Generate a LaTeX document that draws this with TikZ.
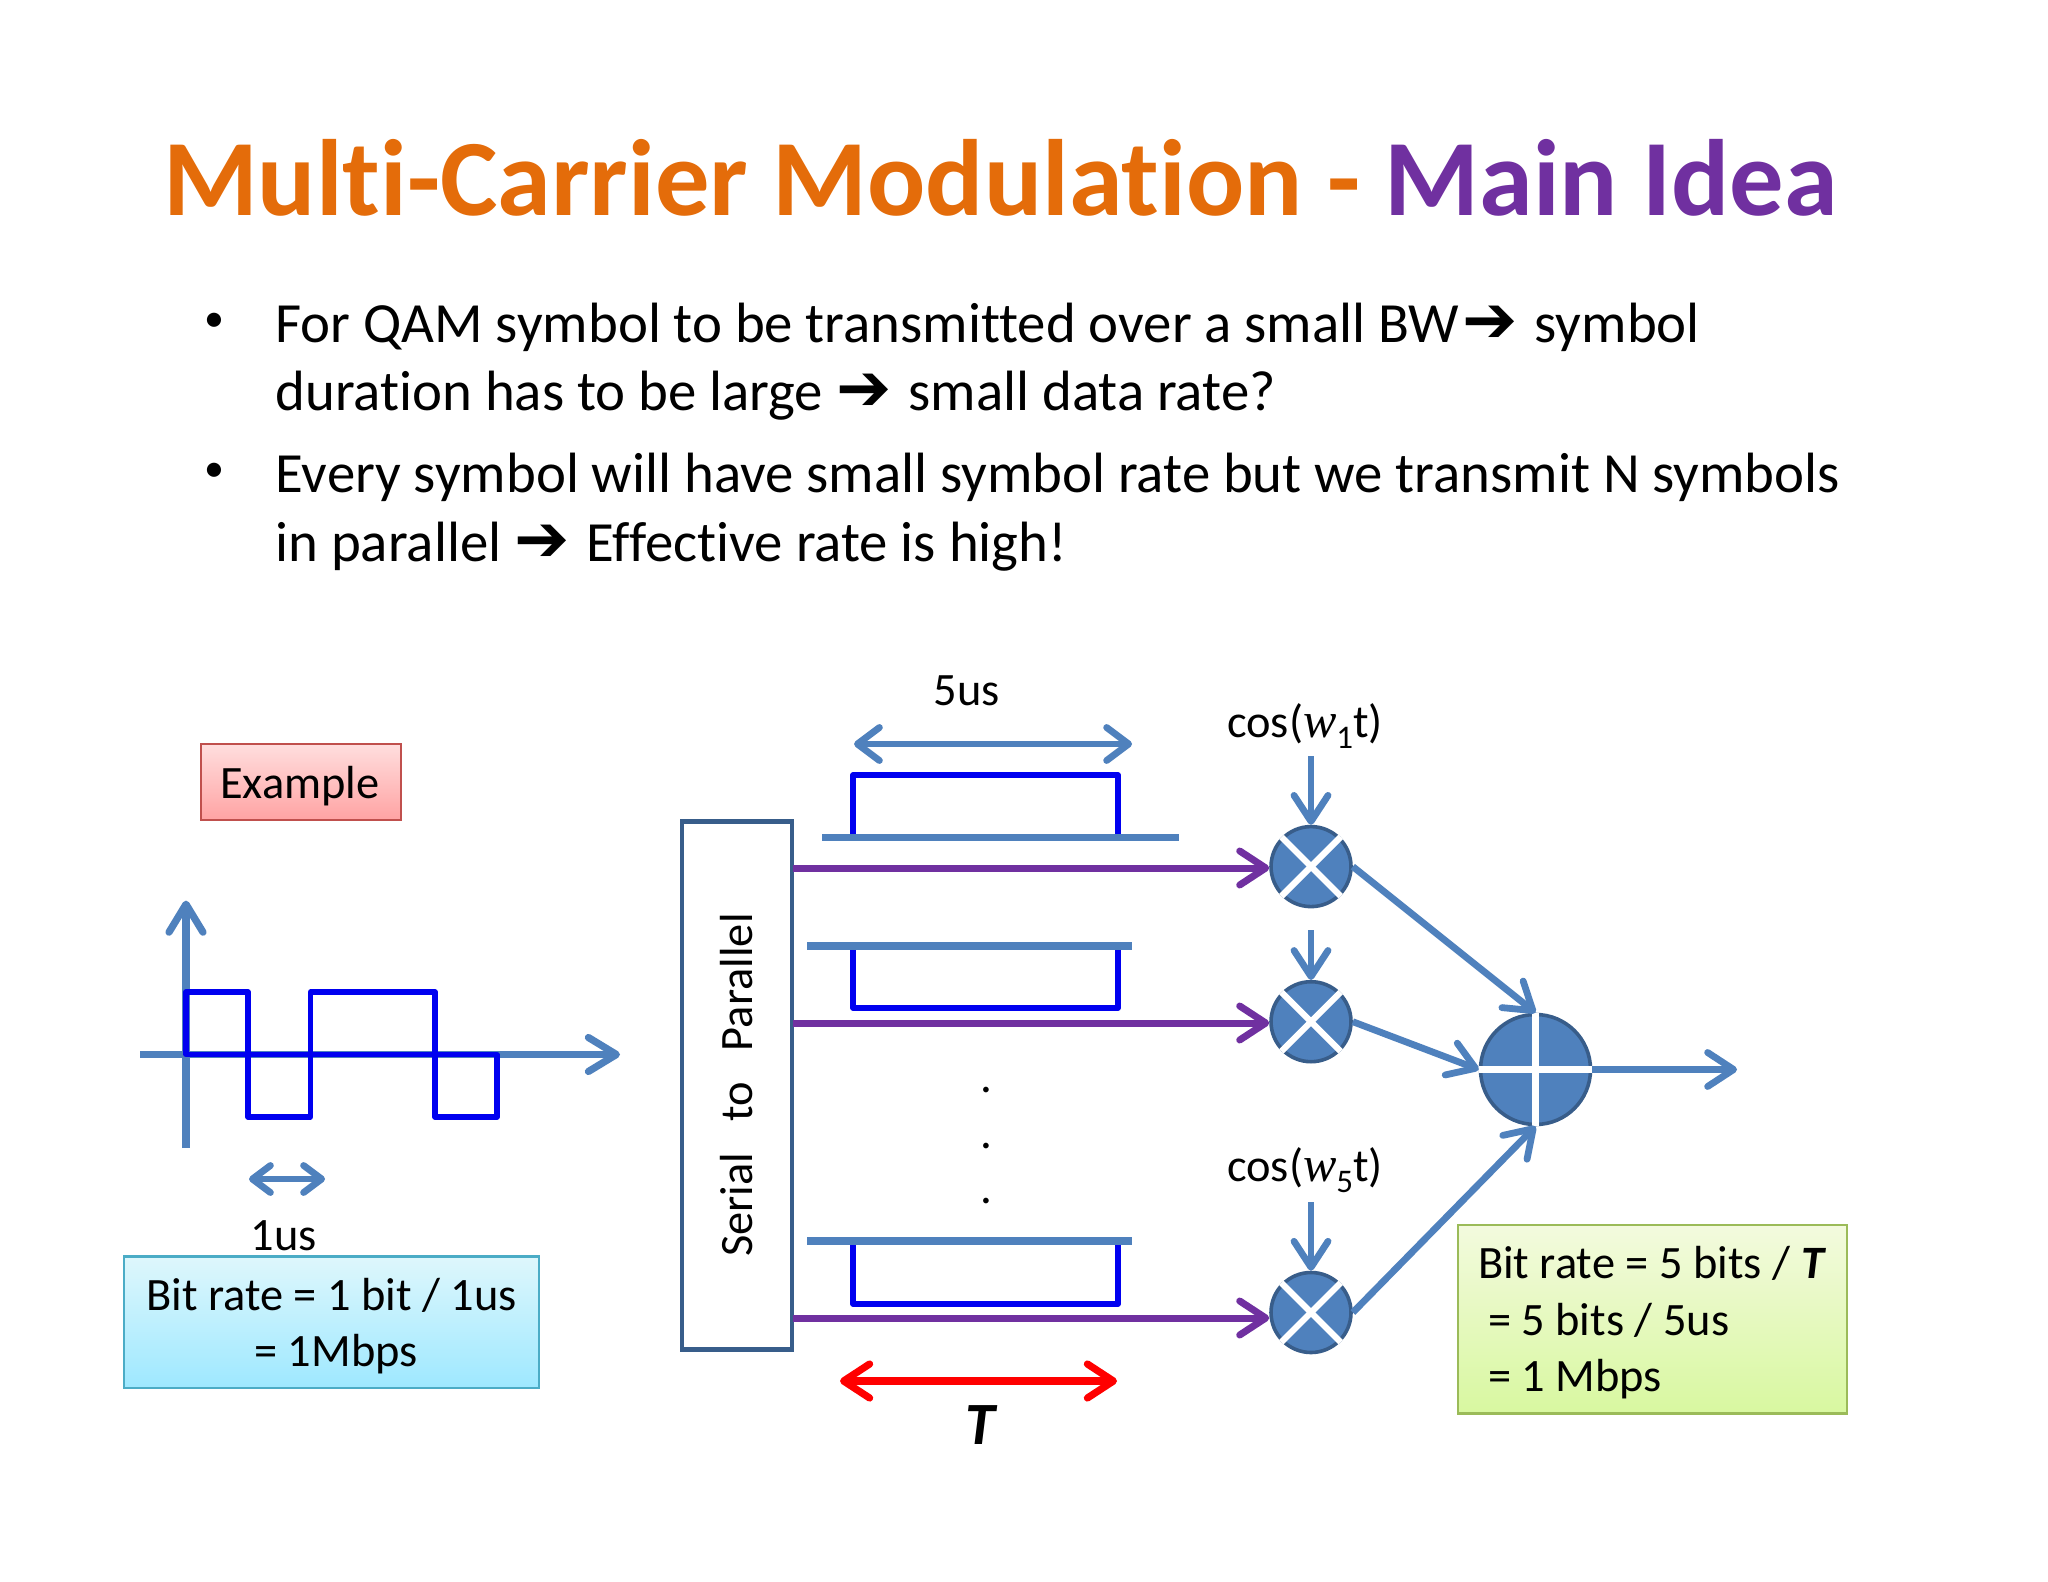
\documentclass[tikz,border=0pt]{standalone}
\usepackage{fontspec}
\setmainfont{Carlito}[Ligatures=NoCommon]
\newfontfamily\djv{DejaVu Sans}
\newfontfamily\lserif{Liberation Serif}
\usetikzlibrary{arrows.meta}
\definecolor{axisblue}{HTML}{4F81BD}
\definecolor{edgeblue}{HTML}{385D8A}
\definecolor{waveblue}{HTML}{0000F0}
\definecolor{violet2}{HTML}{7030A0}
\definecolor{orange2}{HTML}{E46C0A}
\newcommand{\rarr}{{\fontsize{33}{30}\djv\symbol{"2794}}\hspace{2.2pt}}
\newcommand{\wsub}[1]{{\fontsize{25}{26}\lserif\itshape w}\raisebox{-0.24em}{\fontsize{16.5}{16}\selectfont #1}}
\tikzset{
  x=0.5pt,y=-0.5pt,
  txt/.style={inner sep=0pt,outer sep=0pt,anchor=base},
  body/.style={txt,anchor=base west,font=\fontsize{28.4}{30}\selectfont},
  dotb/.style={txt,anchor=center,font=\fontsize{20}{20}\selectfont},
  lab/.style={txt,font=\fontsize{23.2}{26}\selectfont},
  axisline/.style={draw=axisblue,line width=3.6pt,line join=round},
  barb/.style={-{Straight Barb[length=14pt,width=17pt,round]}},
  barbs/.style={{Straight Barb[length=#1,width=1.5*#1,round]}-{Straight Barb[length=#1,width=1.5*#1,round]}},
  wave/.style={draw=waveblue,line width=2.6pt,line join=round},
  purp/.style={draw=violet2,line width=3.5pt,-{Straight Barb[length=13pt,width=17pt,round]}},
  inarrow/.style={draw=axisblue,line width=3.4pt,-{Straight Barb[length=13pt,width=17pt,round]}},
  mult/.style={circle,fill=axisblue,draw=edgeblue,line width=1.8pt,minimum size=40pt,inner sep=0pt},
  sumn/.style={circle,fill=axisblue,draw=edgeblue,line width=1.8pt,minimum size=55pt,inner sep=0pt},
  cross/.style={draw=white,line width=3.1pt},
  note/.style={line width=1.25pt},
}
\begin{document}
\begin{tikzpicture}
\useasboundingbox (0,0) rectangle (2048,1582);
\fill[white] (0,0) rectangle (2048,1582);

% title
\node[txt,anchor=base west,font=\fontsize{54.25}{60}\selectfont\bfseries] (title) at (163,216)
  {\textcolor{orange2}{Multi-Carrier Modulation - }\textcolor{violet2}{Main Idea}};

% bullets
\node[dotb] (b1) at (214,322) {•};
\node[body] (l1) at (275.5,343) {For QAM symbol to be transmitted over a small BW\hspace{1.5pt}\rarr{} symbol};
\node[body] (l2) at (275.5,411) {duration has to be large \rarr{} small data rate?};
\node[dotb] (b2) at (214,472) {•};
\node[body] (l3) at (275.5,493) {Every symbol will have small symbol rate but we transmit N symbols};
\node[body] (l4) at (275.5,561) {in parallel \rarr{} Effective rate is high!};

% example box
\draw[draw={rgb,255:red,192;green,80;blue,77},note,top color={rgb,255:red,255;green,222;blue,222},bottom color={rgb,255:red,255;green,163;blue,163}]
  (201,744) rectangle (401,820);
\node[lab] (example) at (300,798) {Example};

% axes
\coordinate (yb) at (186,1148);
\coordinate (yt) at (186,900.6);
\coordinate (xl) at (140,1054.5);
\coordinate (xr) at (620,1054.5);
\draw[axisline,barb] (yb) -- (yt);
\draw[axisline,barb] (xl) -- (xr);
\draw[wave] (186,1054.5) -- (186,992) -- (248,992) -- (248,1117) -- (310.5,1117) -- (310.5,992)
  -- (435,992) -- (435,1117) -- (497,1117) -- (497,1054.5) -- cycle;
\coordinate (ua) at (249,1179);
\coordinate (ub) at (325,1179);
\draw[axisline,line width=3.4pt,barbs=9pt] (ua) -- (ub);
\node[lab] (us1) at (284,1250) {1us};

% blue box
\draw[draw={rgb,255:red,75;green,172;blue,198},note,top color={rgb,255:red,222;green,247;blue,252},bottom color={rgb,255:red,158;green,232;blue,255}]
  (124,1256.5) rectangle (539,1388);
\node[lab] (bl1) at (331.5,1310) {Bit rate = 1 bit / 1us};
\node[lab] (bl2) at (336,1366) {= 1Mbps};

% serial to parallel
\node[draw=edgeblue,line width=2.4pt,fill=white,minimum width=55pt,inner sep=0pt,outer sep=0pt,anchor=north west,
      minimum height=264pt] (sp) at (682,821.5) {};
\node[lab,anchor=center,rotate=90] (sptxt) at (737,1085) {Serial\hspace{15.5pt}to\hspace{15.5pt}Parallel};

% pulses
\draw[wave] (853,837.5) -- (853,775) -- (1118,775) -- (1118,837.5);
\draw[axisline] (822,837.5) -- (1179,837.5);
\draw[wave] (853,946) -- (853,1008) -- (1118,1008) -- (1118,946);
\draw[axisline] (807,946) -- (1132,946);
\draw[wave] (853,1241) -- (853,1304) -- (1118,1304) -- (1118,1241);
\draw[axisline] (807,1241) -- (1132,1241);

% 5us
\node[lab] (us5) at (967,705) {5us};
\coordinate (fa) at (854,744);
\coordinate (fb) at (1132,744);
\draw[axisline,line width=3.4pt,barbs=11pt] (fa) -- (fb);

% dots
\node[txt,anchor=center,font=\fontsize{23.5}{26}\selectfont] (d1) at (986,1090) {.};
\node[txt,anchor=center,font=\fontsize{23.5}{26}\selectfont] (d2) at (986,1146) {.};
\node[txt,anchor=center,font=\fontsize{23.5}{26}\selectfont] (d3) at (986,1201) {.};

% multipliers
\node[mult] (m1) at (1311,866.6) {};
\node[mult] (m2) at (1311,1021.7) {};
\node[mult] (m3) at (1311,1312.5) {};
\foreach \m in {m1,m2,m3}{
  \draw[cross] (\m.45) -- (\m.225);
  \draw[cross] (\m.135) -- (\m.315);
}
\node[sumn] (sum) at (1535.5,1069.5) {};
\draw[cross] (sum.north) -- (sum.south);
\draw[cross] (sum.west) -- (sum.east);

% purple
\coordinate (p1) at (793,868);
\coordinate (p2) at (793,1023);
\coordinate (p3) at (793,1318);
\draw[purp] (p1) -- (p1 -| m1.west);
\draw[purp] (p2) -- (p2 -| m2.west);
\draw[purp] (p3) -- (p3 -| m3.west);

% carriers
\node[lab] (cos1) at (1305,737) {cos(\wsub{1}t)};
\node[lab] (cos5) at (1305,1181.5) {cos(\wsub{5}t)};
\coordinate (c1) at (1311,756);
\coordinate (c2) at (1311,930);
\coordinate (c3) at (1311,1202);
\draw[inarrow] (c1) -- (m1.north);
\draw[inarrow] (c2) -- (m2.north);
\draw[inarrow] (c3) -- (m3.north);

% into the sum
\draw[inarrow] (m1.east) -- (sum.north);
\draw[inarrow] (m2.east) -- (sum.west);
\draw[inarrow] (m3.east) -- (sum.south);
\coordinate (out) at (1737,1069.5);
\draw[inarrow] (sum.east) -- (out);

% red T
\coordinate (ra) at (840,1381);
\coordinate (rb) at (1117,1381);
\draw[draw=red,line width=3.6pt,{Straight Barb[length=13pt,width=17pt,round]}-{Straight Barb[length=13pt,width=17pt,round]}] (ra) -- (rb);
\node[txt,font=\fontsize{30}{32}\selectfont\bfseries\itshape] (T) at (980.5,1444) {T};

% green box
\draw[draw={rgb,255:red,155;green,187;blue,89},note,top color={rgb,255:red,243;green,250;blue,222},bottom color={rgb,255:red,216;green,248;blue,160}]
  (1458,1225) rectangle (1847,1413.5);
\node[lab,anchor=base west] (g1) at (1478,1278) {Bit rate = 5 bits / \textbf{\textit{T}}};
\node[lab,anchor=base west] (g2) at (1488,1335) {= 5 bits / 5us};
\node[lab,anchor=base west] (g3) at (1488,1391) {= 1 Mbps};
\end{tikzpicture}
\end{document}
